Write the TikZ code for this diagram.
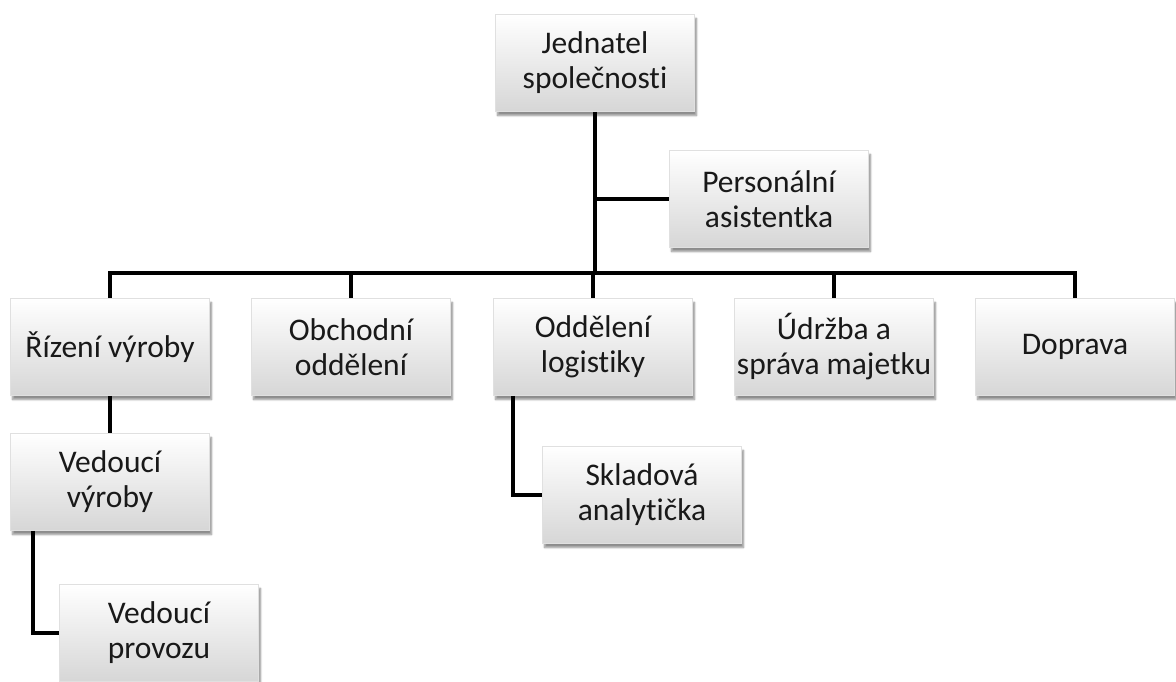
\documentclass[tikz,border=0pt]{standalone}
\usepackage{fontspec}
\setmainfont{Carlito}[Ligatures=NoCommon]
\usetikzlibrary{shadows.blur}
\begin{document}
\begin{tikzpicture}[x=1pt,y=-1pt,
  orgbox/.style={rectangle, minimum width=199pt, minimum height=97pt,
    inner sep=0pt, align=center, font=\fontsize{31.5}{35}\selectfont,
    text=black!90, top color=white, bottom color=black!16,
    draw=black!12, line width=0.6pt,
    blur shadow={shadow xshift=2pt, shadow yshift=-4pt, shadow blur steps=6, shadow opacity=45}},
  link/.style={draw=black, line width=3.6pt}]
  \useasboundingbox (0,0) rectangle (1176,682);

  % boxes
  \node[orgbox] (top)  at (595,63)  {Jednatel\\společnosti};
  \node[orgbox] (pers) at (769,199) {Personální\\asistentka};
  \node[orgbox] (riz)  at (110,347) {Řízení výroby};
  \node[orgbox] (obch) at (351,347) {Obchodní\\oddělení};
  \node[orgbox] (odd)  at (593,347) {Oddělení\\logistiky};
  \node[orgbox] (udr)  at (834,347) {Údržba a\\správa majetku};
  \node[orgbox] (dop)  at (1075,347) {Doprava};
  \node[orgbox] (vv)   at (110,482) {Vedoucí\\výroby};
  \node[orgbox] (skl)  at (642,495) {Skladová\\analytička};
  \node[orgbox] (vp)   at (159,633) {Vedoucí\\provozu};

  % connectors
  \coordinate (bus) at (595,273);
  \coordinate (vvleg) at (33,482);
  \coordinate (oddleg) at (513,347);
  \draw[link] (top.south) -- (bus);
  \draw[link] (top.south |- pers.west) -- (pers.west);
  \draw[link, line join=miter] (bus) -| (riz.north);
  \draw[link] (bus) -| (obch.north);
  \draw[link] (bus) -| (odd.north);
  \draw[link] (bus) -| (udr.north);
  \draw[link, line join=miter] (bus) -| (dop.north);
  \draw[link] (riz.south) -- (vv.north);
  \draw[link] (vvleg |- vv.south) |- (vp.west);
  \draw[link] (oddleg |- odd.south) |- (skl.west);
\end{tikzpicture}
\end{document}
